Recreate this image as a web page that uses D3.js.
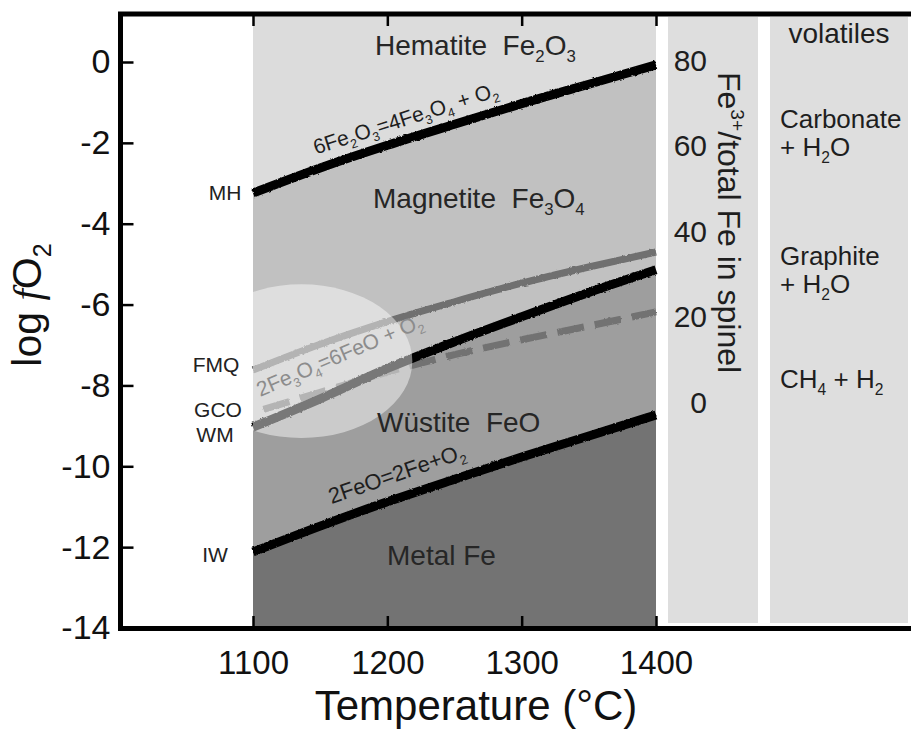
<!DOCTYPE html>
<html>
<head>
<meta charset="utf-8">
<script src="https://cdn.jsdelivr.net/npm/d3@7"></script>
<style>
  body { margin: 0; background: #fff; }
  svg { display: block; }
  text { font-family: "Liberation Sans", Arial, Helvetica, sans-serif; }
</style>
</head>
<body>
<svg id="chart" width="911" height="731"></svg>
<script>
// ---------- data ----------
// temperatures (°C) at which the buffer curves are tabulated
const temps = [1100, 1150, 1200, 1250, 1300, 1350, 1400];
// log fO2 of each oxygen buffer
const mh  = [-3.24, -2.62, -2.06, -1.54, -1.03, -0.55, -0.07];
const fmq = [-7.62, -6.98, -6.42, -5.93, -5.47, -5.07, -4.70];
const wm  = [-9.03, -8.33, -7.58, -6.92, -6.30, -5.70, -5.14];
const gco = [-8.67, -8.17, -7.67, -7.24, -6.87, -6.53, -6.18];
const iw  = [-12.12, -11.48, -10.88, -10.32, -9.77, -9.25, -8.73];

const tempTicks = [1100, 1200, 1300, 1400];
const fo2Ticks = [-14, -12, -10, -8, -6, -4, -2, 0];
const feTicks = [0, 20, 40, 60, 80];

const bufferNames = ["MH", "FMQ", "GCO", "WM", "IW"];
const phaseNames = ["Hematite\u00a0 Fe_2O_3", "Magnetite\u00a0 Fe_3O_4", "Wüstite\u00a0 FeO", "Metal Fe"];
const reactions = ["6Fe_2O_3=4Fe_3O_4 + O_2", "2Fe_3O_4=6FeO + O_2", "2FeO=2Fe+O_2"];
const volatileZones = [["Carbonate", "+ H_2O"], ["Graphite", "+ H_2O"], ["CH_4 + H_2"]];

// highlighted field: centre (°C, log fO2) and half-axes (°C, log units)
const fieldCentre = [1136, -7.40];
const fieldRadii = [82.6, 1.9];

// ---------- scales ----------
const x = d3.scaleLinear().domain([1100, 1400]).range([253, 656]);
const y = d3.scaleLinear().domain([-14, 0]).range([628, 62]);
const feScale = d3.scaleLinear().domain([0, 80]).range([402, 60]);

const svg = d3.select("#chart");
const defs = svg.append("defs");

// slightly ragged edges for the buffer curves
const rough = defs.append("filter").attr("id", "rough")
  .attr("filterUnits", "userSpaceOnUse")
  .attr("x", 0).attr("y", 0).attr("width", 911).attr("height", 731);
rough.append("feTurbulence").attr("type", "fractalNoise")
  .attr("baseFrequency", 0.35).attr("numOctaves", 2).attr("seed", 3).attr("result", "n");
rough.append("feDisplacementMap").attr("in", "SourceGraphic").attr("in2", "n")
  .attr("scale", 2.5).attr("xChannelSelector", "R").attr("yChannelSelector", "G");

const plotTop = 16;
defs.append("clipPath").attr("id", "field")
  .append("rect")
  .attr("x", x(1100)).attr("y", plotTop)
  .attr("width", x(1400) - x(1100)).attr("height", y(-14) - plotTop);

const series = arr => temps.map((t, i) => [t, arr[i]]);
const valueAt = (arr, t) => d3.scaleLinear().domain(temps).range(arr)(t);

const line = d3.line().x(d => x(d[0])).y(d => y(d[1])).curve(d3.curveMonotoneX);
const areaBelow = d3.area().x(d => x(d[0])).y0(y(-14)).y1(d => y(d[1])).curve(d3.curveMonotoneX);

// rich text helper: "_x" / "_{xy}" subscripts, "^x" / "^{xy}" superscripts
function rich(sel, str, fs) {
  const re = /([_^])\{([^}]*)\}|([_^])(.)|([^_^]+)/g;
  let m, shift = 0;
  while ((m = re.exec(str))) {
    if (m[5] !== undefined) {
      sel.append("tspan").attr("dy", -shift).text(m[5]);
      shift = 0;
    } else {
      const kind = m[1] || m[3];
      const t = m[2] !== undefined ? m[2] : m[4];
      const s = kind === "_" ? 0.26 * fs : -0.42 * fs;
      sel.append("tspan").attr("dy", s - shift).attr("font-size", 0.6 * fs).text(t);
      shift = s;
    }
  }
  return sel;
}

// ---------- stability fields ----------
const fields = svg.append("g").attr("clip-path", "url(#field)");
fields.append("rect")
  .attr("x", x(1100)).attr("y", plotTop)
  .attr("width", x(1400) - x(1100)).attr("height", y(-14) - plotTop)
  .attr("fill", "#dcdcdc");
fields.append("path").attr("d", areaBelow(series(mh))).attr("fill", "#c1c1c1");
fields.append("path").attr("d", areaBelow(series(wm))).attr("fill", "#9e9e9e");
fields.append("path").attr("d", areaBelow(series(iw))).attr("fill", "#737373");

// side panels
svg.append("rect").attr("x", 668).attr("y", 17).attr("width", 90).attr("height", 606).attr("fill", "#dedede");
svg.append("rect").attr("x", 770).attr("y", 17).attr("width", 138).attr("height", 606).attr("fill", "#dedede");

// ---------- buffer curves ----------
const curves = svg.append("g").attr("fill", "none").attr("filter", "url(#rough)");
curves.append("path").attr("d", line(series(gco)))
  .attr("stroke", "#727272").attr("stroke-width", 7)
  .attr("stroke-dasharray", "27 11").attr("stroke-dashoffset", 27);
curves.append("path").attr("d", line(series(fmq)))
  .attr("stroke", "#6f6f6f").attr("stroke-width", 7);
curves.append("path").attr("d", line(series(wm)))
  .attr("stroke", "#000").attr("stroke-width", 9);
curves.append("path").attr("d", line(series(mh)))
  .attr("stroke", "#000").attr("stroke-width", 9);
curves.append("path").attr("d", line(series(iw)))
  .attr("stroke", "#000").attr("stroke-width", 9);

// highlighted field
svg.append("g").attr("clip-path", "url(#field)")
  .append("ellipse")
  .attr("cx", x(fieldCentre[0])).attr("cy", y(fieldCentre[1]))
  .attr("rx", x(fieldCentre[0] + fieldRadii[0]) - x(fieldCentre[0]))
  .attr("ry", y(fieldCentre[1] - fieldRadii[1]) - y(fieldCentre[1]))
  .attr("fill", "#fff").attr("fill-opacity", 0.47);

// ---------- labels ----------
// phase names
const phasePos = [[375, 55], [373, 208], [377, 432], [387, 565]];
phaseNames.forEach((p, i) => {
  rich(svg.append("text").attr("x", phasePos[i][0]).attr("y", phasePos[i][1])
    .attr("font-size", 28).attr("fill", "#262626"), p, 28);
});

// reaction labels laid along their curve
function along(arr, t0, span, offset, str, fs, color) {
  const x0 = x(t0), y0 = y(valueAt(arr, t0));
  const x1 = x(t0 + span), y1 = y(valueAt(arr, t0 + span));
  const ang = Math.atan2(y1 - y0, x1 - x0) * 180 / Math.PI;
  const t = svg.append("text")
    .attr("transform", `translate(${x0},${y0}) rotate(${ang})`)
    .attr("x", 0).attr("y", -offset)
    .attr("font-size", fs).attr("fill", color);
  rich(t, str, fs);
}
along(mh, 1150, 140, 14, reactions[0], 21, "#1e1e1e");
along(wm, 1112.7, 120, 25, reactions[1], 21, "#8c8c8c");
along(iw, 1162.5, 110, 17, reactions[2], 22, "#1e1e1e");

// buffer abbreviations at the low-temperature end
const bufferVals = [mh[0], fmq[0], gco[0], wm[0], iw[0]];
const bufferLabelPos = [[225, 0], [216, -5], [218, -3], [215, 8], [215, 2.5]];
bufferNames.forEach((n, i) => {
  svg.append("text")
    .attr("x", bufferLabelPos[i][0])
    .attr("y", y(bufferVals[i]) + bufferLabelPos[i][1])
    .attr("dy", "0.35em")
    .attr("text-anchor", "middle")
    .attr("font-size", 21).attr("fill", "#222")
    .text(n);
});

// Fe3+ scale inside the first side panel
svg.append("g").selectAll("text").data(feTicks).join("text")
  .attr("x", 707).attr("y", d => feScale(d)).attr("dy", "0.35em")
  .attr("text-anchor", "end").attr("font-size", 30).attr("fill", "#1e1e1e")
  .text(d => d);
rich(svg.append("text")
  .attr("transform", "translate(718,72) rotate(90)")
  .attr("font-size", 32).attr("fill", "#1e1e1e"), "Fe^{3+}/total Fe in spinel", 32);

// volatile species panel
svg.append("text").attr("x", 839).attr("y", 43).attr("text-anchor", "middle")
  .attr("font-size", 28).attr("fill", "#1e1e1e").text("volatiles");
const zoneBaselines = [[128, 156], [265, 293], [388]];
volatileZones.forEach((lines, i) => {
  lines.forEach((s, j) => {
    rich(svg.append("text").attr("x", 780).attr("y", zoneBaselines[i][j])
      .attr("font-size", 26).attr("fill", "#1e1e1e"), s, 26);
  });
});

// ---------- axes ----------
const yAxis = svg.append("g").attr("transform", "translate(120.5,0)")
  .call(d3.axisLeft(y).tickValues(fo2Ticks).tickSize(-13).tickPadding(10).tickFormat(d => String(d)));
const xAxis = svg.append("g").attr("transform", "translate(0,628)")
  .call(d3.axisBottom(x).tickValues(tempTicks).tickSize(-12).tickPadding(23).tickFormat(d => String(d)));
const xTop = svg.append("g").attr("transform", "translate(0,14)")
  .call(d3.axisTop(x).tickValues(tempTicks).tickSize(-12).tickFormat(""));
[yAxis, xAxis, xTop].forEach(a => {
  a.select(".domain").remove();
  a.selectAll(".tick line").attr("stroke", "#000").attr("stroke-width", 2.5);
  a.selectAll(".tick text").attr("fill", "#111")
    .style("font-family", '"Liberation Sans", Arial, Helvetica, sans-serif');
});
yAxis.selectAll(".tick text").attr("font-size", 34);
xAxis.selectAll(".tick text").attr("font-size", 33);

// frame
const frame = svg.append("g").attr("stroke", "#000").attr("stroke-width", 5);
frame.append("line").attr("x1", 120.5).attr("x2", 120.5).attr("y1", 12).attr("y2", 631);
frame.append("line").attr("x1", 118).attr("x2", 911).attr("y1", 14).attr("y2", 14);
frame.append("line").attr("x1", 118).attr("x2", 911).attr("y1", 628.5).attr("y2", 628.5);

// axis titles
svg.append("text").attr("x", 476).attr("y", 720).attr("text-anchor", "middle")
  .attr("font-size", 42).attr("fill", "#111").text("Temperature (°C)");
const yt = svg.append("text")
  .attr("transform", "translate(41,305) rotate(-90)")
  .attr("text-anchor", "middle").attr("font-size", 41).attr("fill", "#111");
yt.append("tspan").text("log ");
yt.append("tspan").attr("font-family", '"Liberation Serif", "DejaVu Serif", serif')
  .attr("font-style", "italic").text("f");
yt.append("tspan").text("O");
yt.append("tspan").attr("dy", 10).attr("font-size", 25).text("2");
</script>
</body>
</html>
